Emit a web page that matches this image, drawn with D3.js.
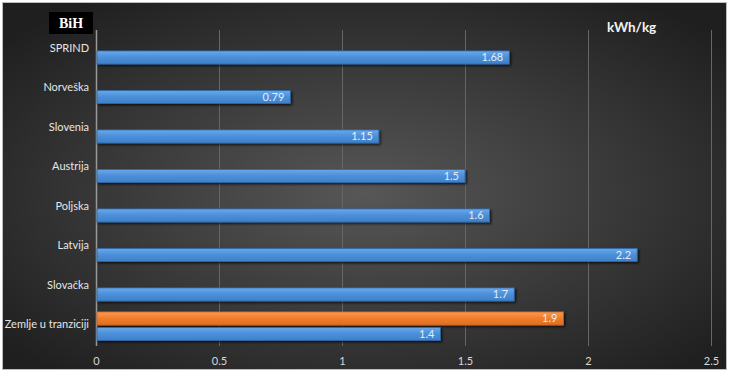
<!DOCTYPE html>
<html><head><meta charset="utf-8">
<script src="https://cdn.jsdelivr.net/npm/d3@7"></script>
<style>html,body{margin:0;padding:0;background:#fff;}svg{display:block;}</style>
</head><body>
<script>
const categories = ["SPRIND","Norveška","Slovenia","Austrija","Poljska","Latvija","Slovačka","Zemlje u tranziciji"];
const blueValues = [1.68,0.79,1.15,1.5,1.6,2.2,1.7,1.4];
const orangeValues = [null,null,null,null,null,null,null,1.9];
const tickValues = [0,0.5,1,1.5,2,2.5];
const tickLabels = ["0","0.5","1","1.5","2","2.5"];

const W=730,H=376;
const svg=d3.select("body").append("svg").attr("width",W).attr("height",H);
const defs=svg.append("defs");
const rg=defs.append("radialGradient").attr("id","bg").attr("cx","50%").attr("cy","52%").attr("r","65%");
rg.append("stop").attr("offset","0%").attr("stop-color","#575757");
rg.append("stop").attr("offset","100%").attr("stop-color","#1f1f1f");
const bg=defs.append("linearGradient").attr("id","gb").attr("x1",0).attr("y1",0).attr("x2",0).attr("y2",1);
bg.append("stop").attr("offset","0%").attr("stop-color","#6aa8ea");
bg.append("stop").attr("offset","50%").attr("stop-color","#4a8fd9");
bg.append("stop").attr("offset","100%").attr("stop-color","#3f80c8");
const og=defs.append("linearGradient").attr("id","go").attr("x1",0).attr("y1",0).attr("x2",0).attr("y2",1);
og.append("stop").attr("offset","0%").attr("stop-color","#f79a55");
og.append("stop").attr("offset","50%").attr("stop-color","#f07c2c");
og.append("stop").attr("offset","100%").attr("stop-color","#e06e22");
const f=defs.append("filter").attr("id","sh").attr("x","-5%").attr("y","-30%").attr("width","115%").attr("height","180%");
f.append("feDropShadow").attr("dx",1.5).attr("dy",1.5).attr("stdDeviation",1).attr("flood-color","#000").attr("flood-opacity",0.7);

svg.append("rect").attr("x",2.5).attr("y",2.5).attr("width",724).attr("height",367)
  .attr("fill","url(#bg)").attr("stroke","#bdbdbd").attr("stroke-width",1);

const x=d3.scaleLinear().domain([0,2.5]).range([96,711]);
const y=d3.scaleBand().domain(categories).range([30,346]).paddingInner(0).paddingOuter(0);
const sub=d3.scaleBand().domain(["o","b"]).range([0,y.bandwidth()]).paddingInner(0.15).paddingOuter(0.35);

// gridlines
const grid=svg.append("g")
  .call(d3.axisBottom(x).tickValues(tickValues).tickSize(346-30).tickFormat(""));
grid.attr("transform","translate(0,30)");
grid.select(".domain").remove();
grid.selectAll(".tick line").attr("stroke","#666").attr("stroke-width",1);
grid.selectAll(".tick").filter(d=>d===0).select("line").attr("stroke","#999").attr("stroke-width",1.5);

// tick labels
const ax=svg.append("g").attr("transform","translate(0,346)")
  .call(d3.axisBottom(x).tickValues(tickValues).tickSize(0).tickPadding(11).tickFormat((d,i)=>tickLabels[i]));
ax.select(".domain").remove();
ax.selectAll("text").attr("fill","#d9d9d9").style("font-family","Lato, 'Open Sans', sans-serif").style("font-size","11px");

// category labels
const ay=svg.append("g").attr("transform","translate(89,0)")
  .call(d3.axisLeft(y).tickSize(0).tickPadding(0));
ay.select(".domain").remove();
ay.selectAll("text").attr("fill","#e6e6e6").style("font-family","Lato, 'Open Sans', sans-serif").style("font-size","11px").attr("dy","0.2em");

const fmt=v=>String(v);
function drawSeries(vals,key,fill,stroke){
  const data=categories.map((c,i)=>({c,v:vals[i]})).filter(d=>d.v!=null);
  const g=svg.append("g");
  g.selectAll("rect").data(data).join("rect")
    .attr("x",x(0)+1).attr("y",d=>y(d.c)+sub(key))
    .attr("width",d=>x(d.v)-x(0)-1).attr("height",sub.bandwidth())
    .attr("fill",fill).attr("stroke",stroke).attr("stroke-width",0.8).attr("filter","url(#sh)");
  g.selectAll("text").data(data).join("text")
    .attr("x",d=>x(d.v)-6).attr("y",d=>y(d.c)+sub(key)+sub.bandwidth()/2)
    .attr("dy","0.36em").attr("text-anchor","end").attr("fill","#e4edf7")
    .style("font-family","Lato, 'Open Sans', sans-serif").style("font-size","11px").text(d=>fmt(d.v));
}
drawSeries(orangeValues,"o","url(#go)","#c45f1c");
drawSeries(blueValues,"b","url(#gb)","#2e64a3");

// BiH box
svg.append("rect").attr("x",49).attr("y",12).attr("width",44).attr("height",22).attr("fill","#000");
svg.append("text").attr("x",71).attr("y",28).attr("text-anchor","middle").attr("fill","#fff")
  .style("font-family","'Liberation Serif', 'DejaVu Serif', serif").style("font-weight","bold").style("font-size","14px").text("BiH");
// unit
svg.append("text").attr("x",607).attr("y",32).attr("fill","#f2f2f2")
  .style("font-family","Lato, 'Open Sans', sans-serif").style("font-weight","bold").style("font-size","13.5px").text("kWh/kg");
</script>
</body></html>
